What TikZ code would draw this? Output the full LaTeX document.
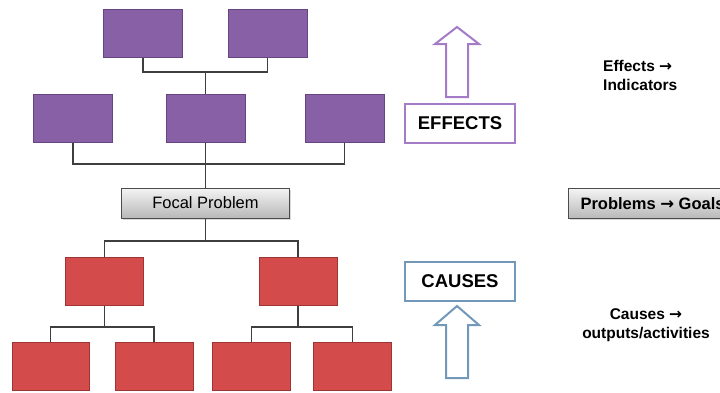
\documentclass[tikz,border=0pt]{standalone}
\usepackage{fontspec}
\setmainfont{Liberation Sans}
\newfontfamily\arrowfont{DejaVu Sans}
\usetikzlibrary{shadows}

\definecolor{effectfill}{HTML}{8860A6}
\definecolor{effectline}{HTML}{664582}
\definecolor{causefill}{HTML}{D34B4B}
\definecolor{causeline}{HTML}{9E3434}
\definecolor{linkgray}{HTML}{3E3E3E}
\definecolor{purpleedge}{HTML}{A47BC6}
\definecolor{blueedge}{HTML}{7399BA}
\definecolor{greytop}{HTML}{F4F4F4}
\definecolor{greybottom}{HTML}{B8B8B8}

\newcommand{\rarr}{{\arrowfont\bfseries →}}

\tikzset{
  effectbox/.style={draw=effectline, line width=1pt, fill=effectfill,
    minimum width=79pt, minimum height=48pt, inner sep=0pt},
  causebox/.style={draw=causeline, line width=1pt, fill=causefill,
    minimum width=78pt, minimum height=48pt, inner sep=0pt},
  greybox/.style={draw=black!70, line width=1pt,
    top color=greytop, bottom color=greybottom,
    drop shadow={opacity=0.3, shadow xshift=1pt, shadow yshift=-1.5pt},
    minimum height=30pt, inner sep=0pt},
  link/.style={draw=linkgray, line width=1.5pt},
  labelbox/.style={fill=white, line width=2pt, minimum width=110pt,
    minimum height=39pt, inner sep=0pt,
    font=\fontsize{18.5}{20}\selectfont\bfseries},
  hollowarrow/.style={fill=white, line width=2pt, line join=miter},
  sidetext/.style={font=\fontsize{15.5}{19}\selectfont\bfseries, inner sep=0pt}
}

\begin{document}
\begin{tikzpicture}[x=1pt, y=-1pt]
  \useasboundingbox (0,0) rectangle (720,392);
  \clip (0,0) rectangle (720,392);

  % effects tree
  \node[effectbox] (p1) at (143,33) {};
  \node[effectbox] (p2) at (267.5,33) {};
  \node[effectbox] (pl) at (73,118) {};
  \node[effectbox] (pm) at (205.5,118) {};
  \node[effectbox] (pr) at (344.5,118) {};

  % focal problem
  \node[greybox, minimum width=168pt, font=\fontsize{16.5}{18}\selectfont]
    (focal) at (205.5,203) {Focal Problem};

  % causes tree
  \node[causebox] (c1) at (104.5,281) {};
  \node[causebox] (c2) at (298,281) {};
  \node[causebox, minimum width=77pt] (d1) at (50.5,366) {};
  \node[causebox] (d2) at (154,366) {};
  \node[causebox] (d3) at (251.5,366) {};
  \node[causebox] (d4) at (352.5,366) {};

  % connectors
  \coordinate (j1) at (205.5,72);
  \coordinate (j2) at (205.5,164);
  \coordinate (j3) at (205.5,241);
  \coordinate (j4) at (104.5,327);
  \coordinate (j5) at (298,327);
  \draw[link] (p1.south) |- (j1) -| (p2.south);
  \draw[link] (j1) -- (pm.north);
  \draw[link] (pl.south) |- (j2) -| (pr.south);
  \draw[link] (pm.south) -- (focal.north);
  \draw[link] (focal.south) -- (j3);
  \draw[link] (c1.north) |- (j3) -| (c2.north);
  \draw[link] (c1.south) -- (j4);
  \draw[link] (d1.north) |- (j4) -| (d2.north);
  \draw[link] (c2.south) -- (j5);
  \draw[link] (d3.north) |- (j5) -| (d4.north);

  % hollow up arrows
  \draw[hollowarrow, draw=purpleedge]
    (457,27) -- (479,44) -- (468,44) -- (468,97) -- (446,97) -- (446,44)
    -- (435,44) -- cycle;
  \draw[hollowarrow, draw=blueedge]
    (457,306) -- (479,325) -- (468,325) -- (468,378) -- (446,378) -- (446,325)
    -- (435,325) -- cycle;

  % labels
  \node[labelbox, draw=purpleedge] (effects) at (460,123.5) {EFFECTS};
  \node[labelbox, draw=blueedge] (causes) at (460,281) {CAUSES};

  \node[greybox, anchor=west, inner xsep=12pt,
    font=\fontsize{16.5}{18}\selectfont\bfseries]
    (goals) at (568,203.5) {Problems \rarr\ Goals};

  \node[sidetext, anchor=west, align=left] (indic) at (603,75.5)
    {Effects \rarr\\Indicators};
  \node[sidetext, align=center] (outputs) at (646,325.5)
    {Causes \rarr\\outputs/activities};
\end{tikzpicture}
\end{document}
